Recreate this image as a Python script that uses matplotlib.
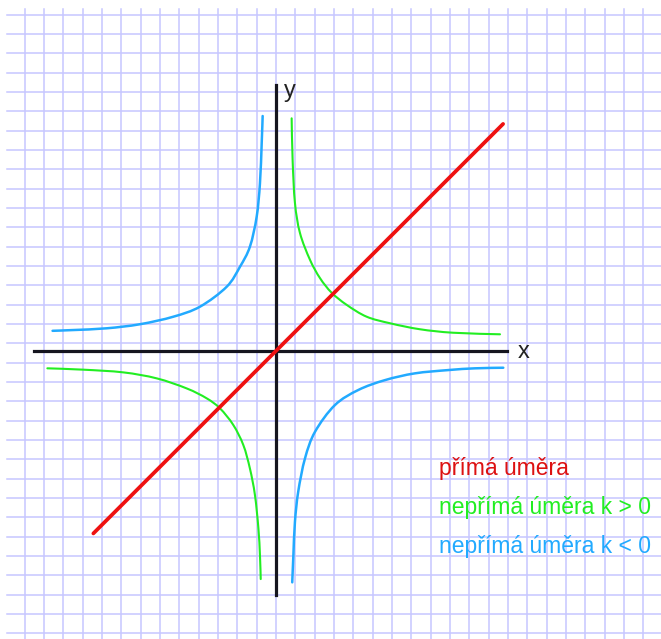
import numpy as np
import matplotlib.pyplot as plt
from matplotlib.path import Path
from matplotlib.patches import PathPatch

# --- DATA (one grid cell = 1 unit) ---
line_x = [-9.45, 11.75]
line_y = [-9.45, 11.73]

# nepřímá úměra k > 0, upper right branch
green_r_x = [0.81, 0.86, 0.98, 1.24, 1.76, 2.28, 2.88, 3.66, 4.69, 5.90, 7.45, 9.17, 11.59]
green_r_y = [12.02, 9.86, 7.65, 6.09, 4.70, 3.75, 3.00, 2.37, 1.76, 1.42, 1.11, 0.93, 0.85]
# lower left branch
green_l_x = [-11.83, -9.97, -7.90, -6.17, -4.62, -3.59, -2.90, -2.21, -1.69, -1.35, -1.09, -0.91, -0.83, -0.79]
green_l_y = [-0.91, -0.98, -1.12, -1.43, -1.95, -2.46, -2.98, -3.84, -4.88, -6.09, -7.46, -9.19, -10.57, -11.81]

# nepřímá úměra k < 0, upper left branch
blue_l_x = [-0.69, -0.74, -0.83, -1.00, -1.35, -1.86, -2.55, -3.93, -5.31, -7.04, -8.76, -10.49, -11.56]
blue_l_y = [12.14, 10.73, 8.66, 6.93, 5.38, 4.35, 3.31, 2.28, 1.76, 1.37, 1.16, 1.07, 1.03]
# lower right branch
blue_r_x = [0.84, 0.90, 0.98, 1.15, 1.50, 2.02, 3.05, 4.26, 5.64, 7.19, 8.92, 10.30, 11.76]
blue_r_y = [-11.98, -10.57, -8.85, -7.29, -5.57, -4.19, -2.81, -2.03, -1.52, -1.17, -1.00, -0.91, -0.88]

labels = ["přímá úměra", "nepřímá úměra k > 0", "nepřímá úměra k < 0"]
label_colors = ["#dd1111", "#22ee22", "#22aaff"]


def smooth_curve(ax, xs, ys, **kw):
    # draw a smooth bezier path through the read points (catmull-rom style handles)
    p = np.column_stack([xs, ys])
    verts = [p[0]]
    codes = [Path.MOVETO]
    for i in range(len(p) - 1):
        p0 = p[i - 1] if i > 0 else p[i]
        p3 = p[i + 2] if i + 2 < len(p) else p[i + 1]
        c1 = p[i] + (p[i + 1] - p0) / 6.0
        c2 = p[i + 1] - (p3 - p[i]) / 6.0
        verts += [c1, c2, p[i + 1]]
        codes += [Path.CURVE4] * 3
    ax.add_patch(PathPatch(Path(verts, codes), fill=False, capstyle='round', **kw))


# --- FIGURE ---
fig = plt.figure(figsize=(6.61, 6.39), dpi=100)
ax = fig.add_axes([0, 0, 1, 1])
ax.set_xlim(-14.28, 19.92)
ax.set_ylim(-14.91, 18.14)
ax.axis('off')

# squared paper
grid_col = '#c6c6ff'
for gx in np.arange(-13, 20):
    ax.plot([gx, gx], [-14.91, 17.67], color=grid_col, linewidth=1.1, zorder=0)
for gy in np.arange(-14.62, 17.5, 1.0):
    ax.plot([-13.9, 19.92], [gy, gy], color=grid_col, linewidth=1.1, zorder=0)

# axes
ax.plot([-12.52, 11.93], [0, 0], color='#15151f', linewidth=2.3, zorder=2)
ax.plot([0, 0], [-12.64, 13.75], color='#15151f', linewidth=2.3, zorder=2)
ax.text(12.5, -0.05, 'x', fontsize=17, family='Liberation Sans', va='center', ha='left', color='#222222')
ax.text(0.4, 13.45, 'y', fontsize=17, family='Liberation Sans', va='center', ha='left', color='#222222')

# curves
smooth_curve(ax, green_r_x, green_r_y, edgecolor='#22ee22', linewidth=1.5, zorder=3)
smooth_curve(ax, green_l_x, green_l_y, edgecolor='#22ee22', linewidth=1.5, zorder=3)
smooth_curve(ax, blue_l_x, blue_l_y, edgecolor='#22aaff', linewidth=1.8, zorder=3)
smooth_curve(ax, blue_r_x, blue_r_y, edgecolor='#22aaff', linewidth=1.8, zorder=3)
ax.plot(line_x, line_y, color='#ee1111', linewidth=2.7, zorder=4, solid_capstyle='round')

# legend texts
for i, (txt, col) in enumerate(zip(labels, label_colors)):
    ax.text(8.45, -6.1 - 2.0 * i, txt, color=col, fontsize=16.5,
            family='Liberation Sans', va='center', ha='left')

fig.savefig('out.png', dpi=100)
